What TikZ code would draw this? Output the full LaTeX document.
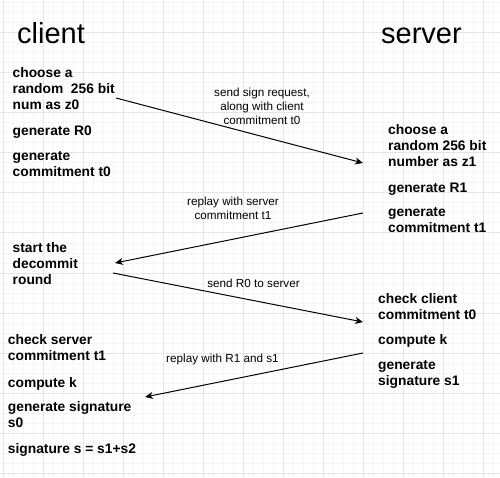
\documentclass[tikz,border=0pt]{standalone}
\usepackage{fontspec}
\setmainfont{Liberation Sans}
\usetikzlibrary{arrows.meta}
\begin{document}
\begin{tikzpicture}[x=1pt,y=-1pt,
  minorgrid/.style={draw=black!4,line width=1pt},
  majorgrid/.style={draw=black!10,line width=1pt},
  title/.style={anchor=base west,inner sep=0pt,font=\fontsize{29}{34}\selectfont},
  stepbox/.style={anchor=base west,inner sep=0pt,align=left,font=\fontsize{13.8}{16}\selectfont\bfseries},
  msg/.style={anchor=base,inner sep=0pt,align=center,font=\fontsize{11.7}{14}\selectfont},
  link/.style={draw=black,line width=1pt,-{Stealth[length=8pt,width=7pt,inset=2.5pt]}}
]
\useasboundingbox (0,0) rectangle (500,478);
\fill[white] (0,0) rectangle (500,478);
% grid
\foreach \x in {3,13,...,493} \draw[minorgrid] (\x,0) -- (\x,478);
\foreach \y in {3,13,...,473} \draw[minorgrid] (0,\y) -- (500,\y);
\foreach \x in {3,43,...,483} \draw[majorgrid] (\x,0) -- (\x,478);
\foreach \y in {33,73,...,473} \draw[majorgrid] (0,\y) -- (500,\y);
% titles
\node[title] (client) at (17,44) {client};
\node[title] (server) at (381,44) {server};
% client steps (positions are baselines of the last line)
\node[stepbox] (c1) at (12.5,110) {choose a\\random\ \ 256 bit\\num as z0};
\node[stepbox] (c2) at (12.5,136) {generate R0};
\node[stepbox] (c3) at (12.5,177) {generate\\commitment t0};
\node[stepbox] (c4) at (12.5,284) {start the\\decommit\\round};
\node[stepbox] (c5) at (7.7,360) {check server\\commitment t1};
\node[stepbox] (c6) at (7.7,387) {compute k};
\node[stepbox] (c7) at (7.7,427) {generate signature\\s0};
\node[stepbox] (c8) at (7.7,453) {signature s = s1+s2};
% server steps
\node[stepbox] (s1) at (388,167) {choose a\\random 256 bit\\number as z1};
\node[stepbox] (s2) at (388,193) {generate R1};
\node[stepbox] (s3) at (388,233) {generate\\commitment t1};
\node[stepbox] (s4) at (378,319) {check client\\commitment t0};
\node[stepbox] (s5) at (378,344) {compute k};
\node[stepbox] (s6) at (378,385) {generate\\signature s1};
% connector ends
\coordinate (a1s) at (116,98);
\coordinate (a1e) at (363,163);
\coordinate (a2s) at (363,213);
\coordinate (a2e) at (115,263);
\coordinate (a3s) at (113,273);
\coordinate (a3e) at (363,322);
\coordinate (a4s) at (363,353);
\coordinate (a4e) at (145,397);
\draw[link] (a1s) -- (a1e);
\draw[link] (a2s) -- (a2e);
\draw[link] (a3s) -- (a3e);
\draw[link] (a4s) -- (a4e);
% messages
\node[msg] (m1) at (262,125) {send sign request,\\along with client\\commitment t0};
\node[msg] (m2) at (233,220) {replay with server\\commitment t1};
\node[msg] (m3) at (253.5,287.3) {send R0 to server};
\node[msg] (m4) at (222.5,362.7) {replay with R1 and s1};
\end{tikzpicture}
\end{document}
